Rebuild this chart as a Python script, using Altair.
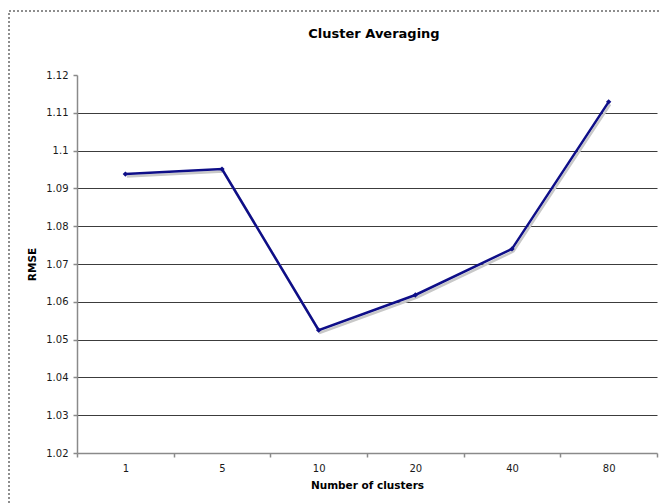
import altair as alt
import pandas as pd

# Number of clusters (categorical) and the resulting RMSE
clusters = ["1", "5", "10", "20", "40", "80"]
rmse = [1.0938, 1.0951, 1.0525, 1.0618, 1.0740, 1.1129]
y_ticks = [1.02, 1.03, 1.04, 1.05, 1.06, 1.07, 1.08, 1.09, 1.10, 1.11, 1.12]

df = pd.DataFrame({"clusters": clusters, "rmse": rmse})

FONT = "DejaVu Sans"
LINE = "#0e0e88"

x_enc = alt.X(
    "clusters:O",
    sort=clusters,
    scale=alt.Scale(paddingInner=0, paddingOuter=0),
    axis=alt.Axis(
        title="Number of clusters",
        labelAngle=0,
        tickBand="extent",
        tickSize=4,
        labelPadding=6,
        titlePadding=7,
        domainColor="#8a8a8a",
        domainWidth=1.5,
        tickColor="#8a8a8a",
        tickWidth=1.5,
        grid=False,
    ),
)
y_enc = alt.Y(
    "rmse:Q",
    scale=alt.Scale(domain=[1.02, 1.12], nice=False, zero=False),
    axis=alt.Axis(
        title="RMSE",
        values=y_ticks,
        format=".2~f",
        labelExpr="replace(datum.label, /0$/, '')",
        tickSize=4,
        labelPadding=5,
        titleX=-45,
        titleY=189,
        titleAngle=-90,
        titleBaseline="middle",
        domainColor="#8a8a8a",
        domainWidth=1.5,
        tickColor="#8a8a8a",
        tickWidth=1.5,
        grid=True,
        gridColor="#3c3c3c",
        gridWidth=1,
        gridOpacity={"condition": {"test": "datum.value >= 1.115 || datum.value <= 1.025", "value": 0}, "value": 1},
    ),
)

# light drop shadow under the series line
shadow = alt.Chart(df).mark_line(
    color="#c8c8c8", strokeWidth=2.5, xOffset=1.5, yOffset=2.5
).encode(x=x_enc, y=y_enc)

line = alt.Chart(df).mark_line(
    color=LINE,
    strokeWidth=2.5,
    point=alt.OverlayMarkDef(shape="diamond", size=28, color=LINE, filled=True),
).encode(x=x_enc, y=y_enc)

# dashed frame around the figure
frame = alt.Chart(df).mark_rect(
    fill=None, stroke="#8c8c8c", strokeDash=[2, 2], strokeWidth=1
).encode(
    x=alt.value(-68), x2=alt.value(640), y=alt.value(-64), y2=alt.value(470)
)

chart = (
    alt.layer(frame, shadow, line)
    .properties(
        width=580,
        height=378,
        background="white",
        title=alt.TitleParams(
            "Cluster Averaging", font=FONT, fontSize=13, fontWeight="bold",
            anchor="middle", offset=-30, dx=7, color="black",
        ),
        padding={"left": 77, "top": 75, "right": 2, "bottom": 51},
        autosize=alt.AutoSizeParams(type="none"),
    )
    .configure_view(stroke=None)
    .configure_axis(
        labelFont=FONT, labelFontSize=10, labelColor="#1a1a1a",
        titleFont=FONT, titleFontSize=10.5, titleFontWeight="bold", titleColor="black",
    )
)

chart.save("out.html", embed_options={"renderer": "svg", "actions": False})
